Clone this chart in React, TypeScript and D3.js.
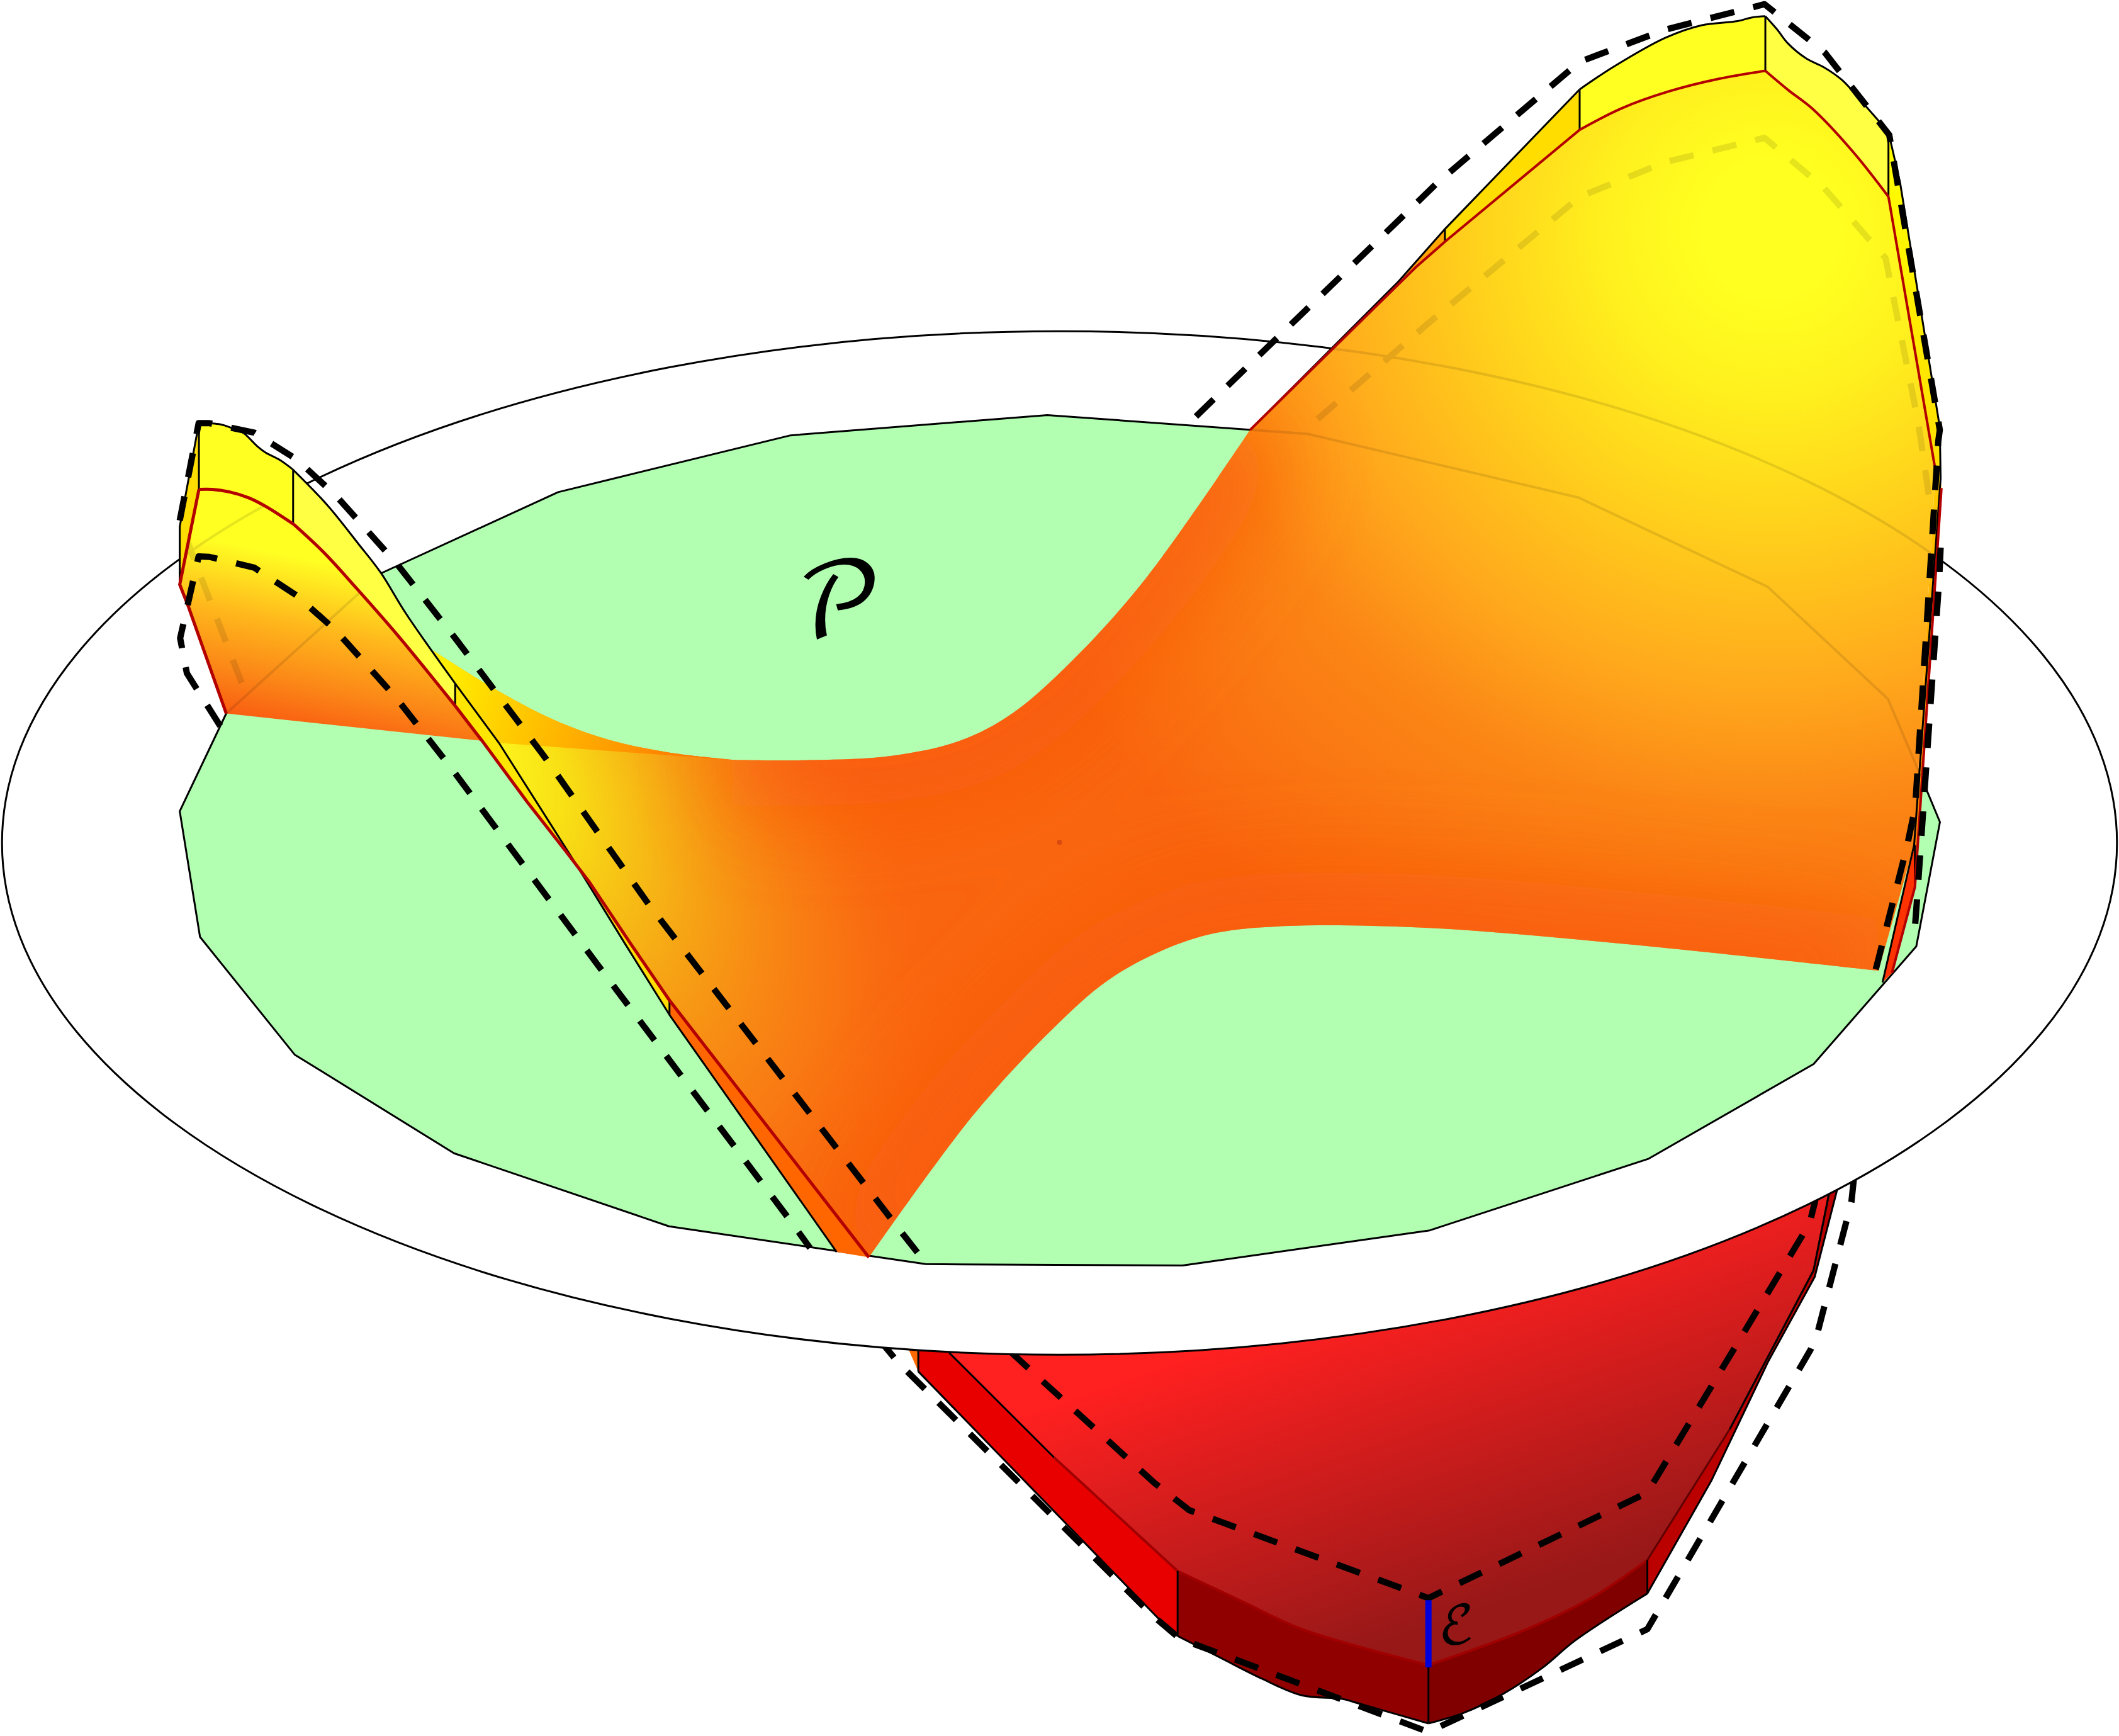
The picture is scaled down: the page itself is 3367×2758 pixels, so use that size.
import React from 'react';
import * as d3 from 'd3';

type Pt = [number, number];

const WIDTH = 3367;
const HEIGHT = 2758;

const ringCentre: Pt = [784, 623.5];
const ringRadii: Pt = [782.5, 378.5];

const polygonP: Pt[] = [[775, 307], [968, 321], [1168, 368], [1308, 434], [1397, 517], [1422.6, 577], [1435.5, 608], [1418, 700], [1342, 787], [1220, 857], [1058, 910], [875, 936], [685, 935], [495, 907], [336, 853], [218, 780], [148, 693], [133, 600], [167.4, 527.7], [282, 424], [413, 364], [585, 322]];

// red ridge and black rim of the right peak, piece by piece
const ridgeRising: Pt[] = [[925, 318], [1047.8, 197.5], [1069.2, 178.8], [1168.9, 96]];
const ridgeTop: Pt[] = [[1168.9, 96], [1200.2, 80], [1234.9, 67.6], [1272.3, 58.2], [1306.3, 52.4]];
const ridgeFalling: Pt[] = [[1306.3, 52.4], [1323.1, 66.5], [1341.8, 81], [1371.2, 112.3], [1397.4, 145.5]];
const rimRising: Pt[] = [[925, 318], [1035, 208], [1069.2, 169.4], [1168.9, 66.1]];
const rimTop: Pt[] = [[1168.9, 66.1], [1194.8, 48.9], [1232.2, 28], [1259, 18.7], [1285.7, 15.6], [1296.4, 12.9], [1306.3, 12]];
const rimFalling: Pt[] = [[1306.3, 12], [1315, 21.8], [1323.1, 32.2], [1336.5, 43.2], [1349.9, 49.9], [1363.2, 59.3], [1379.2, 76.9], [1397.4, 97.7]];
const rimRight: Pt[] = [[1397.4, 97.7], [1406, 135], [1435.4, 316], [1436, 354], [1416.4, 625], [1393, 726.7]];

// upper sheet, middle
const saddleTopLeft: Pt[] = [[320.4, 481.2], [365, 509], [410, 532.5], [450, 547], [494, 556.5], [541.8, 562]];
const saddleTopRight: Pt[] = [[541.8, 562], [602, 562.2], [660, 559], [710, 548], [750, 527], [800, 482], [850, 425], [925, 318]];
const rightFlank: Pt[] = [[1397.4, 145.5], [1432, 351], [1416.4, 625], [1390, 718]];
const saddleBottom: Pt[] = [[1390, 718], [1200, 698], [1050, 686], [950, 685], [900, 690], [860, 703], [820, 725], [780, 760], [720, 825], [643, 930]];
const foldEdge: Pt[] = [[643, 930], [495.4, 739.9], [467, 698.5], [435.8, 652], [427.4, 641], [369.2, 549.5], [336.8, 505.5], [320.4, 481.2]];
const saddlePatchBase: Pt[] = [[541.8, 562], [369.2, 549.5], [336.8, 505.5]];

// left lobe
const lobeRedTop: Pt[] = [[147.2, 362], [157, 362], [169.5, 363.8], [184, 368.2], [196.5, 374.5], [217.3, 387.8]];
const lobeRedFall: Pt[] = [[217.3, 387.8], [240.2, 409.2], [263, 434.2], [294.2, 469.8], [337, 522.3]];
const lobeRedLow: Pt[] = [[337, 522.3], [356.8, 548], [390, 593], [419, 630], [435.8, 652], [467, 698.5], [495.4, 739.9], [643, 930]];
const lobeRedSide: Pt[] = [[167.4, 527.7], [139.3, 448.4], [133, 432.4], [147.2, 362]];
const lobeBase: Pt[] = [[356.8, 548], [167.4, 527.7], [139.3, 448.4], [133, 432.4], [147.2, 362]];
const lobeSide: Pt[] = [[147.2, 313], [133, 389.6], [133, 432.4], [147.2, 362]];
const lobeRimTop: Pt[] = [[147.2, 313], [163.2, 313.9], [171.5, 316.6], [179.9, 320.1], [190.3, 330], [196.5, 334.7], [206.9, 340.1], [216.3, 346.9]];
const lobeRimFall: Pt[] = [[216.3, 346.9], [242.2, 373.6], [265.1, 402.1], [281.7, 423.5], [300.4, 453.8], [336.8, 505.5]];
const stripLower: Pt[] = [[336.8, 505.5], [369.2, 549.5], [427.4, 641], [435.8, 652], [419, 630], [390, 593], [356.8, 548], [337, 522.3]];
const stripYellow: Pt[] = [[427.4, 641], [462.8, 698.5], [495.4, 750.6], [495.4, 739.9], [467, 698.5], [435.8, 652]];
const stripOrange: Pt[] = [[495.4, 739.9], [643, 930], [619.1, 926], [495.4, 750.6]];
const lobeOutlineEnd: Pt[] = [[336.8, 505.5], [369.2, 549.5], [427.4, 641], [462.8, 698.5], [495.4, 750.6], [619.1, 926]];
const lobeOutlineStart: Pt[] = [[133, 432.4], [133, 389.6], [147.2, 313]];

const facetScarlet: Pt[] = [[1417, 625], [1417, 656], [1400, 719.6], [1393, 726.7]];
const stripeRight: Pt[] = [[1436, 354], [1436.6, 361], [1417, 656], [1416.4, 625], [1432, 351]];
const facetEdge: Pt[] = [[1397.4, 97.7], [1406, 135], [1435.4, 316], [1436, 354], [1432, 351], [1397.4, 145.5]];
const rightRed: Pt[] = [[1436.6, 361], [1417, 656], [1400, 719.6]];
const flankRed: Pt[] = [[1397.4, 145.5], [1432.7, 351]];

const verticals: [Pt, Pt][] = [
  [[147.2, 313], [147.2, 362]],
  [[216.9, 347.7], [216.9, 387.8]],
  [[336.8, 505.5], [336.8, 522.4]],
  [[495.4, 739.9], [495.4, 750.6]],
  [[1069.2, 169.4], [1069.2, 178.8]],
  [[1168.9, 66.1], [1168.9, 96]],
  [[1306.3, 12], [1306.3, 52.4]],
  [[1397.4, 97.7], [1397.4, 145.5]],
  [[1417, 625], [1417, 656]],
];

// lower sheet, under the ring
const lowerInnerLeft: Pt[] = [[702.7, 990], [702.7, 1000.9], [780, 1078], [871.4, 1162]];
const lowerInnerMid: Pt[] = [[871.4, 1162], [919, 1184.4], [963.5, 1205], [1057, 1231.6]];
const lowerInnerRight: Pt[] = [[1057, 1231.6], [1129.8, 1205], [1180.3, 1180.3], [1219, 1153.8]];
const lowerInnerUp: Pt[] = [[1219, 1153.8], [1280, 1057], [1342, 939.6], [1356, 870]];
const lowerOuterLeft: Pt[] = [[679.5, 990], [679.5, 1014.4], [815, 1153.8], [861, 1201], [871.4, 1210]];
const lowerOuterMid: Pt[] = [[871.4, 1210], [904, 1226.6], [933.8, 1241.6], [963.5, 1254], [993.2, 1256.5], [1005, 1259.8], [1057, 1274.7]];
const lowerOuterRight: Pt[] = [[1057, 1274.7], [1082.3, 1267.2], [1112, 1253], [1141.7, 1233.3], [1165.5, 1213.4], [1219, 1178.6]];
const lowerOuterUp: Pt[] = [[1219, 1178.6], [1266.7, 1094.5], [1308.6, 1006.6], [1342.8, 944.5], [1362, 870]];
const lowerFacetOrange: Pt[] = [[668.8, 990], [679.5, 990], [679.5, 1014.4]];
const lowerVerticals: [Pt, Pt][] = [
  [[679.5, 998], [679.5, 1014.4]],
  [[871.4, 1162], [871.4, 1210]],
  [[1057, 1231.6], [1057, 1274.7]],
  [[1219, 1153.8], [1219, 1178.6]],
];
const epsilonBar: [Pt, Pt] = [[1057, 1183.6], [1057, 1233.3]];

// the two dashed traces
const dashedGhostLobe: Pt[] = [[178.8, 505], [148, 425], [133, 385]];
const dashedUpperLeft: Pt[] = [[133, 385], [147, 313], [155, 313], [188.2, 320], [219.4, 339.7], [248.5, 366.5], [293.2, 416.4], [337.9, 473.4], [402.3, 558.9], [479.8, 668.6], [664.9, 908.6], [683.6, 932.4]];
const dashedLowerLeft: Pt[] = [[163, 537], [138.3, 498], [133.3, 472], [147, 411.5], [155, 411.9], [188.2, 419.9], [219.4, 440.4], [248.5, 466.3], [293.2, 516.2], [333.7, 567.8], [442.4, 713.8], [583.8, 901.5], [599.4, 923]];
const dashedUpperRight: Pt[] = [[885, 308], [1063.8, 135], [1168.9, 45.7], [1232, 22], [1305.7, 3.1], [1350, 38.5], [1398, 99.8], [1435.4, 318], [1434.3, 326], [1417.2, 597], [1411, 626.5], [1386, 725]];
const dashedLowerRightEnd: Pt[] = [[1436, 405], [1435, 427.6], [1418.8, 661.8], [1416.4, 694]];
const dashedGhostRight: Pt[] = [[975, 310], [1057, 239], [1169, 145.5], [1232, 120], [1305.7, 101.9], [1350, 139.3], [1395.3, 191], [1419.4, 312], [1428, 371]];
const dashedBelowInner: Pt[] = [[700, 955], [756, 1007.4], [854, 1096.6], [880, 1117], [1057, 1182], [1219, 1104], [1339, 905], [1343, 889], [1346, 870]];
const dashedBelowOuter: Pt[] = [[650, 990], [664.3, 1007.4], [853.2, 1195.2], [873, 1212], [1057, 1281], [1219, 1205], [1339.7, 998.4], [1345, 985.4], [1370, 889], [1372, 870]];

const centreDot: Pt = [784, 623];
const labelP: Pt = [621, 449];
const labelEps: Pt = [1078, 1204];

const x = d3.scaleLinear().domain([0, 1568]).range([0, WIDTH]);
const y = d3.scaleLinear().domain([0, 1284]).range([0, HEIGHT]);

const straight = d3.line<Pt>().x(d => x(d[0])).y(d => y(d[1]));
const smooth = d3.line<Pt>().x(d => x(d[0])).y(d => y(d[1])).curve(d3.curveCatmullRom.alpha(0.5));

function shape(pts: Pt[]) {
  return straight(pts) + 'Z';
}
// stitches several edges into one closed outline
function stitch(edges: (string | null)[]) {
  return edges.map((e, i) => (i ? e!.replace(/^M/, 'L') : e)).join('') + 'Z';
}
// a facet between two curved edges; the second one is walked backwards
function band(a: Pt[], b: Pt[]) {
  return stitch([smooth(a), smooth([...b].reverse())]);
}
function flatBand(a: Pt[], b: Pt[]) {
  return stitch([straight(a), straight([...b].reverse())]);
}

const mainSurface = stitch([smooth(saddleTopLeft), smooth(saddleTopRight), smooth(ridgeRising), smooth(ridgeTop), smooth(ridgeFalling), straight(rightFlank), smooth(saddleBottom), straight(foldEdge)]);
const lobeSurface = stitch([smooth(lobeRedTop), smooth(lobeRedFall), straight([[337, 522.3], [356.8, 548]]), straight(lobeBase)]);
const lowerSurface = stitch([smooth(lowerInnerLeft), smooth(lowerInnerMid), smooth(lowerInnerRight), straight(lowerInnerUp)]);
const saddlePatch = stitch([smooth(saddleTopLeft), straight(saddlePatchBase)]);

const DASH = '39 31';
const DASH_W = 10;

function Edge({ pts, w = 3, c = '#000', curved = false, dash }: { pts: Pt[]; w?: number; c?: string; curved?: boolean; dash?: string }) {
  return <path d={(curved ? smooth(pts) : straight(pts))!} fill="none" stroke={c} strokeWidth={w} strokeDasharray={dash} strokeLinejoin="round" />;
}

export default function App() {
  const ringEllipse = { cx: x(ringCentre[0]), cy: y(ringCentre[1]), rx: x(ringRadii[0]), ry: y(ringRadii[1]) };
  return (
    <svg width={WIDTH} height={HEIGHT} viewBox={`0 0 ${WIDTH} ${HEIGHT}`} style={{ position: 'absolute', left: 0, top: 0, background: '#fff' }}>
      <defs>
        <radialGradient id="peakGlow" gradientUnits="userSpaceOnUse" cx={x(1310)} cy={y(170)} r={x(620)}>
          <stop offset="0" stopColor="#ffff20" />
          <stop offset="0.08" stopColor="#ffff20" />
          <stop offset="0.2" stopColor="#fff01e" />
          <stop offset="0.32" stopColor="#ffd81c" />
          <stop offset="0.55" stopColor="#ffa81c" />
          <stop offset="0.7" stopColor="#fb8515" />
          <stop offset="1" stopColor="#f9650f" />
        </radialGradient>
        <radialGradient id="saddleGlow" gradientUnits="userSpaceOnUse" cx="0" cy="0" r="1"
          gradientTransform={`translate(${x(340)},${y(540)}) rotate(54.2) scale(${x(490)},${x(260)})`}>
          <stop offset="0" stopColor="#ffff20" />
          <stop offset="0.22" stopColor="#f8e015" />
          <stop offset="0.48" stopColor="#f6a815" stopOpacity={0.95} />
          <stop offset="0.78" stopColor="#f98015" stopOpacity={0.6} />
          <stop offset="1" stopColor="#f96a12" stopOpacity={0} />
        </radialGradient>
        <linearGradient id="patchFill" gradientUnits="userSpaceOnUse" x1={x(330)} y1={y(495)} x2={x(540)} y2={y(560)}>
          <stop offset="0" stopColor="#ffee00" />
          <stop offset="0.35" stopColor="#ffc000" />
          <stop offset="0.7" stopColor="#ff9000" />
          <stop offset="1" stopColor="#ff6600" />
        </linearGradient>
        <linearGradient id="lobeFill" gradientUnits="userSpaceOnUse" x1={x(250)} y1={y(400)} x2={x(220)} y2={y(545)}>
          <stop offset="0" stopColor="#ffff22" />
          <stop offset="0.12" stopColor="#ffff22" />
          <stop offset="0.45" stopColor="#ffb81c" />
          <stop offset="0.75" stopColor="#fb8517" />
          <stop offset="1" stopColor="#f95510" />
        </linearGradient>
        <linearGradient id="lowerFill" gradientUnits="userSpaceOnUse" x1={x(872)} y1={y(1007)} x2={x(952)} y2={y(1239)}>
          <stop offset="0" stopColor="#ff2020" />
          <stop offset="1" stopColor="#981818" />
        </linearGradient>
        <linearGradient id="sliverFill" gradientUnits="userSpaceOnUse" x1={x(925)} y1={y(318)} x2={x(1069)} y2={y(170)}>
          <stop offset="0" stopColor="#ff6600" />
          <stop offset="1" stopColor="#ffaa00" />
        </linearGradient>
        <linearGradient id="stripeFill" gradientUnits="userSpaceOnUse" x1="0" y1={y(354)} x2="0" y2={y(656)}>
          <stop offset="0" stopColor="#ffcc00" />
          <stop offset="1" stopColor="#ff7700" />
        </linearGradient>
        <linearGradient id="edgeFill" gradientUnits="userSpaceOnUse" x1="0" y1={y(98)} x2="0" y2={y(354)}>
          <stop offset="0" stopColor="#ffff00" />
          <stop offset="1" stopColor="#ffdd00" />
        </linearGradient>
        <filter id="edgeBlur" filterUnits="userSpaceOnUse" x="0" y="0" width={WIDTH} height={HEIGHT}>
          <feGaussianBlur stdDeviation="75" />
        </filter>
        <clipPath id="mainClip">
          <path d={mainSurface} />
        </clipPath>
        <clipPath id="upperClip">
          <path d={mainSurface} />
          <path d={lobeSurface} />
        </clipPath>
      </defs>

      {/* lower sheet, the ring hides its top */}
      <path d={lowerSurface} fill="url(#lowerFill)" />
      <path d={shape(lowerFacetOrange)} fill="#ff6a00" />
      <path d={flatBand(lowerInnerLeft, lowerOuterLeft)} fill="#e80000" />
      <path d={band(lowerInnerMid, lowerOuterMid)} fill="#910000" />
      <path d={band(lowerInnerRight, lowerOuterRight)} fill="#800000" />
      <path d={flatBand(lowerInnerUp, lowerOuterUp)} fill="#bb0000" />
      <Edge pts={lowerInnerLeft.slice(0, 3)} />
      <Edge pts={lowerInnerLeft.slice(2)} w={4} c="#a00000" />
      <Edge pts={lowerInnerMid} curved w={4} c="#a00000" />
      <Edge pts={lowerInnerRight} curved w={4} c="#a00000" />
      <Edge pts={lowerInnerUp} w={3} c="#600000" />
      <Edge pts={lowerInnerUp.slice(1)} w={3} />
      <Edge pts={lowerOuterLeft.slice(1)} />
      <Edge pts={lowerOuterMid} curved />
      <Edge pts={lowerOuterRight} curved />
      <Edge pts={lowerOuterUp} />
      {lowerVerticals.map((v, i) => <Edge key={i} pts={v} />)}
      <Edge pts={dashedBelowInner} w={DASH_W} dash={DASH} />
      <Edge pts={dashedBelowOuter} w={DASH_W} dash={DASH} />
      <Edge pts={epsilonBar} w={10} c="#0000dd" />

      {/* ring and polygon */}
      <ellipse {...ringEllipse} fill="#fff" stroke="#000" strokeWidth={3} />
      <path d={shape(polygonP)} fill="#b2ffb2" stroke="#000" strokeWidth={3} strokeLinejoin="round" />

      {/* upper sheet */}
      <path d={mainSurface} fill="url(#peakGlow)" />
      <path d={mainSurface} fill="url(#saddleGlow)" />
      <g clipPath="url(#mainClip)">
        <g filter="url(#edgeBlur)" opacity={0.85}>
          <Edge pts={saddleTopRight} curved w={150} c="#f95c0e" />
          <Edge pts={saddleBottom} curved w={170} c="#f95c0e" />
        </g>
      </g>
      <path d={saddlePatch} fill="url(#patchFill)" />
      <circle cx={x(centreDot[0])} cy={y(centreDot[1])} r={4} fill="#d84a10" />
      <path d={shape(stripLower)} fill="#ffe600" />
      <path d={shape(stripYellow)} fill="#ffdd00" />
      <path d={shape(stripOrange)} fill="#ff6600" />
      <path d={lobeSurface} fill="url(#lobeFill)" />
      <path d={shape(lobeSide)} fill="#ffdd00" />
      <path d={band(lobeRimTop, lobeRedTop)} fill="#ffff22" />
      <path d={band(lobeRimFall, lobeRedFall)} fill="#ffff44" />
      <path d={flatBand(rimRising.slice(0, 3), ridgeRising.slice(0, 3))} fill="url(#sliverFill)" />
      <path d={flatBand(rimRising.slice(2), ridgeRising.slice(2))} fill="#ffdd00" />
      <path d={band(rimTop, ridgeTop)} fill="#ffff22" />
      <path d={band(rimFalling, ridgeFalling)} fill="#ffff44" />
      <path d={shape(facetEdge)} fill="url(#edgeFill)" />
      <path d={shape(stripeRight)} fill="url(#stripeFill)" />
      <path d={shape(facetScarlet)} fill="#ff3300" />

      {/* what lies behind shows through faintly */}
      <g clipPath="url(#upperClip)" opacity={0.1}>
        <ellipse {...ringEllipse} fill="none" stroke="#000" strokeWidth={4} />
        <path d={shape(polygonP)} fill="none" stroke="#000" strokeWidth={4} />
        <Edge pts={dashedGhostRight} w={DASH_W} dash={DASH} />
        <Edge pts={dashedGhostLobe} w={DASH_W} dash={DASH} />
      </g>

      <Edge pts={lobeOutlineStart} />
      <Edge pts={lobeRimTop} curved />
      <Edge pts={lobeRimFall} curved />
      <Edge pts={lobeOutlineEnd} />
      <Edge pts={rimRising} />
      <Edge pts={rimTop} curved />
      <Edge pts={rimFalling} curved />
      <Edge pts={rimRight} />
      {verticals.map((v, i) => <Edge key={i} pts={v} />)}
      <Edge pts={lobeRedSide} w={5} c="#b30000" />
      <Edge pts={lobeRedTop} curved w={5} c="#b30000" />
      <Edge pts={lobeRedFall} curved w={5} c="#b30000" />
      <Edge pts={lobeRedLow} w={5} c="#b30000" />
      <Edge pts={ridgeRising} w={4} c="#b30000" />
      <Edge pts={ridgeTop} curved w={4} c="#b30000" />
      <Edge pts={ridgeFalling} curved w={4} c="#b30000" />
      <Edge pts={flankRed} w={4} c="#b30000" />
      <Edge pts={rightRed} w={4} c="#b30000" />

      <Edge pts={dashedUpperLeft} w={DASH_W} dash={DASH} />
      <Edge pts={dashedLowerLeft} w={DASH_W} dash={DASH} />
      <Edge pts={dashedUpperRight} w={DASH_W} dash={DASH} />
      <Edge pts={dashedLowerRightEnd} w={DASH_W} dash={DASH} />

      <text x={x(labelP[0])} y={y(labelP[1])} textAnchor="middle" dominantBaseline="central" fontFamily="'DejaVu Math TeX Gyre','DejaVu Sans','Liberation Serif'" fontSize={165}>𝒫</text>
      <text x={x(labelEps[0])} y={y(labelEps[1])} textAnchor="middle" dominantBaseline="central" fontFamily="'DejaVu Math TeX Gyre','DejaVu Sans','Liberation Serif'" fontSize={84}>ℰ</text>
    </svg>
  );
}
